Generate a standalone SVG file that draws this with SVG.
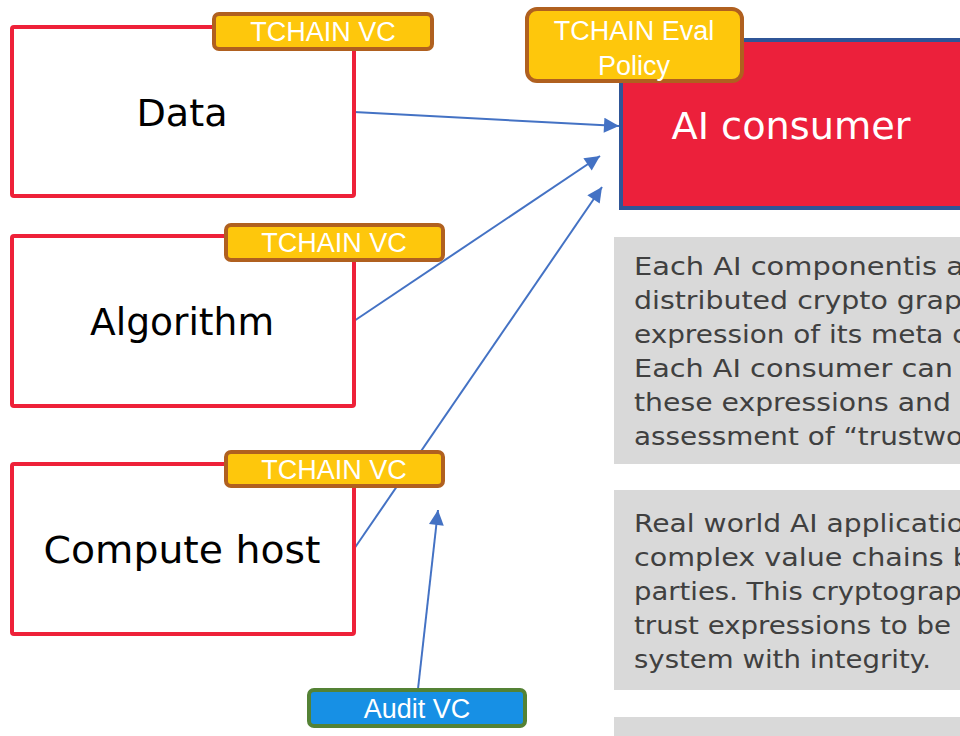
<svg xmlns="http://www.w3.org/2000/svg" width="960" height="736" viewBox="0 0 960 736">
<style>
.box{fill:#fff;stroke:#EE2139;stroke-width:4}
.lbl{font-family:"DejaVu Sans","Noto Sans",sans-serif;font-size:37px;fill:#000;text-anchor:middle}
.badge{fill:#FEC70C;stroke:#B0601F;stroke-width:4}
.btxt{font-family:"Liberation Sans",Arial,sans-serif;font-size:27px;fill:#fff;text-anchor:middle}
.note{fill:#D9D9D9}
.ntxt{font-family:"DejaVu Sans","Noto Sans",sans-serif;font-size:25px;fill:#404040}
.conn{stroke:#4472C4;stroke-width:2;fill:none;marker-end:url(#arr)}
</style>
<defs>
<marker id="arr" viewBox="0 0 10 10" refX="10" refY="5" markerWidth="8" markerHeight="7.5" orient="auto" markerUnits="strokeWidth">
<path d="M0,0 L10,5 L0,10 z" fill="#4472C4"/>
</marker>
</defs>
<rect class="note" x="614" y="237" width="360" height="227"/>
<rect class="note" x="614" y="490" width="360" height="200"/>
<rect class="note" x="614" y="717" width="360" height="30"/>
<g id="note1" class="ntxt">
<text x="634" y="275" textLength="330" lengthAdjust="spacingAndGlyphs">Each AI componentis a</text>
<text x="634" y="309" textLength="328" lengthAdjust="spacingAndGlyphs">distributed crypto grap</text>
<text x="634" y="343" textLength="336" lengthAdjust="spacingAndGlyphs">expression of its meta d</text>
<text x="634" y="377" textLength="319" lengthAdjust="spacingAndGlyphs">Each AI consumer can</text>
<text x="634" y="411" textLength="317" lengthAdjust="spacingAndGlyphs">these expressions and</text>
<text x="634" y="445" textLength="329" lengthAdjust="spacingAndGlyphs">assessment of “trustwo</text>
</g>
<g id="note2" class="ntxt">
<text x="634" y="532" textLength="330" lengthAdjust="spacingAndGlyphs">Real world AI applicatio</text>
<text x="634" y="566" textLength="337" lengthAdjust="spacingAndGlyphs">complex value chains b</text>
<text x="634" y="600" textLength="328" lengthAdjust="spacingAndGlyphs">parties. This cryptograp</text>
<text x="634" y="634" textLength="317" lengthAdjust="spacingAndGlyphs">trust expressions to be</text>
<text x="634" y="668" textLength="297" lengthAdjust="spacingAndGlyphs">system with integrity.</text>
</g>
<g id="connectors">
<line class="conn" x1="354" y1="112" x2="619" y2="126"/>
<line class="conn" x1="354" y1="321" x2="600" y2="156"/>
<line class="conn" x1="354" y1="549" x2="602" y2="187"/>
<line class="conn" x1="418" y1="689" x2="438" y2="510"/>
</g>
<g id="data">
<rect class="box" x="12" y="27" width="342" height="169" rx="2"/>
<text class="lbl" x="182" y="126" textLength="91" lengthAdjust="spacingAndGlyphs">Data</text>
</g>
<g id="algorithm">
<rect class="box" x="12" y="236" width="342" height="170" rx="2"/>
<text class="lbl" x="182" y="335" textLength="184" lengthAdjust="spacingAndGlyphs">Algorithm</text>
</g>
<g id="compute">
<rect class="box" x="12" y="464" width="342" height="170" rx="2"/>
<text class="lbl" x="182" y="563" textLength="277" lengthAdjust="spacingAndGlyphs">Compute host</text>
</g>
<g id="vc1">
<rect class="badge" x="214" y="14" width="218" height="35" rx="5"/>
<text class="btxt" x="323" y="41">TCHAIN VC</text>
</g>
<g id="vc2">
<rect class="badge" x="226" y="225" width="217" height="35" rx="5"/>
<text class="btxt" x="334" y="252">TCHAIN VC</text>
</g>
<g id="vc3">
<rect class="badge" x="226" y="452" width="217" height="34" rx="5"/>
<text class="btxt" x="334" y="479">TCHAIN VC</text>
</g>
<g id="audit">
<rect x="309" y="690" width="216" height="36" rx="5" fill="#1790E5" stroke="#548235" stroke-width="4"/>
<text class="btxt" x="417" y="718">Audit VC</text>
</g>
<g id="consumer">
<rect x="621" y="40" width="360" height="168" fill="#EC203B" stroke="#2F5597" stroke-width="4"/>
<text x="791" y="139" font-family="DejaVu Sans,Noto Sans,sans-serif" font-size="37" fill="#fff" text-anchor="middle" textLength="239" lengthAdjust="spacingAndGlyphs">AI consumer</text>
</g>
<g id="policy">
<rect x="527" y="9" width="215" height="72" rx="10" class="badge"/>
<text class="btxt" x="634" y="40">TCHAIN Eval</text>
<text class="btxt" x="634" y="75">Policy</text>
</g>
</svg>
